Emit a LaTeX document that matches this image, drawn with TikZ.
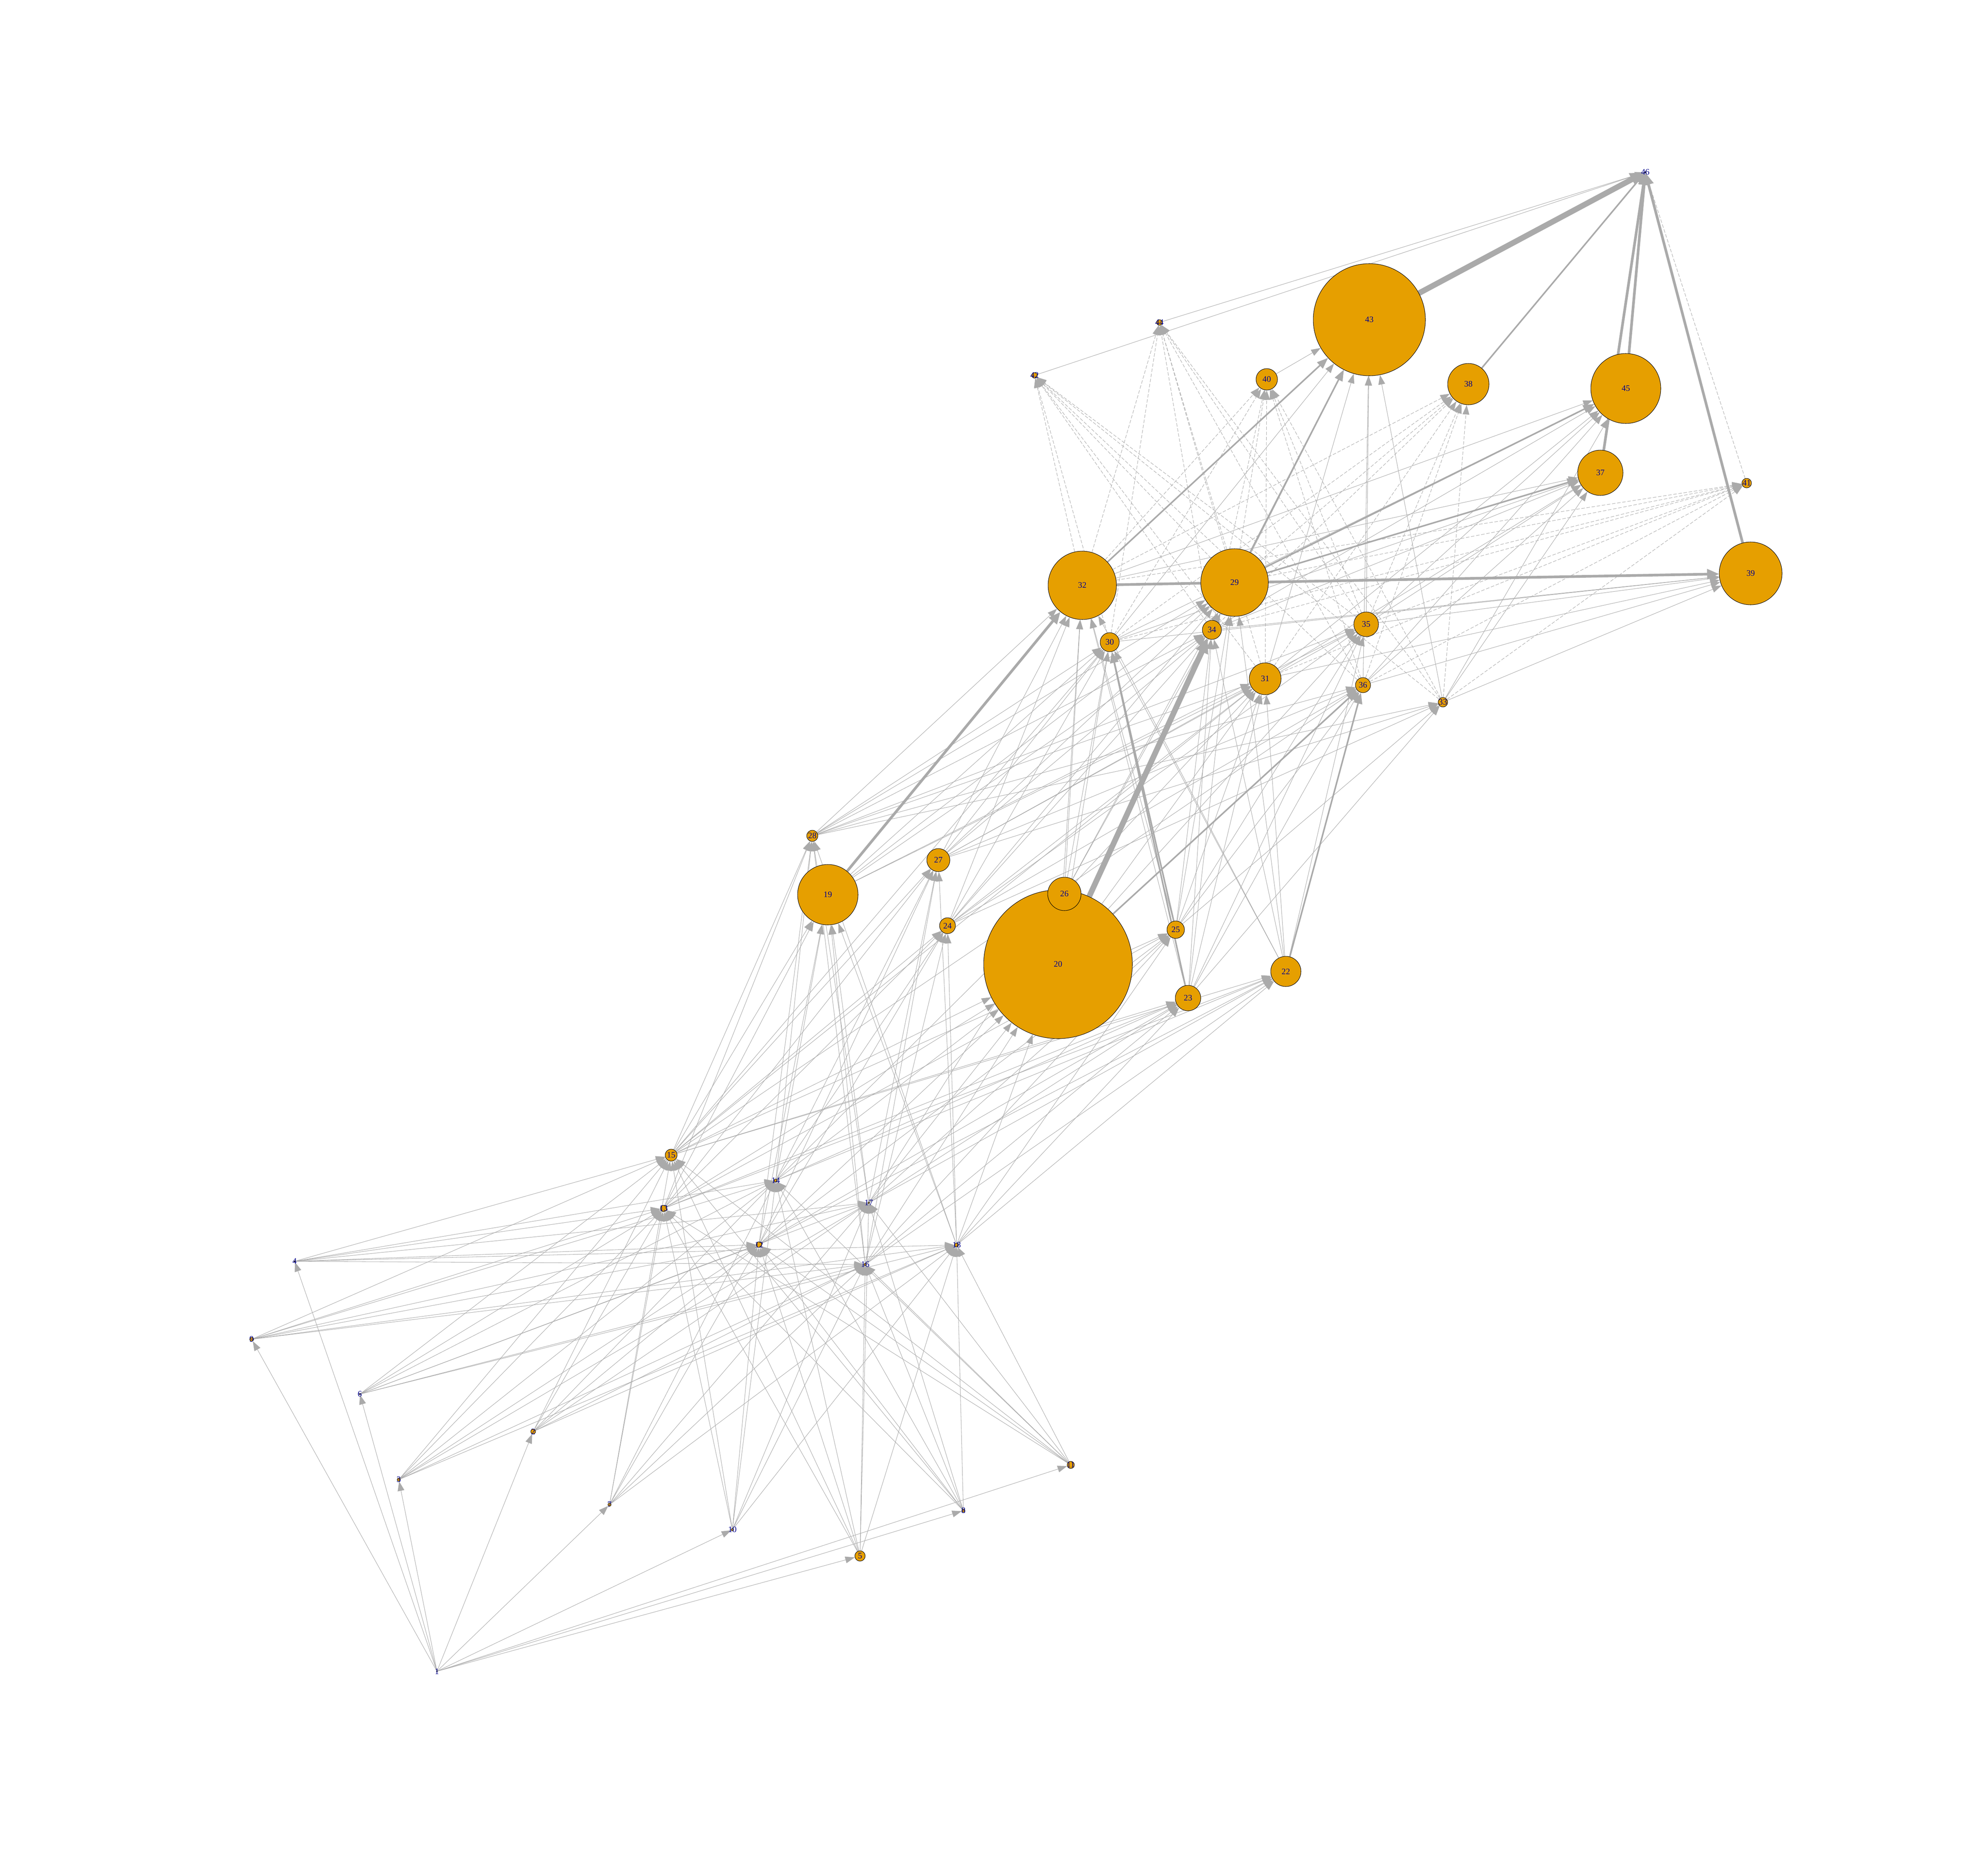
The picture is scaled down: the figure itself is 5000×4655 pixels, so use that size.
\documentclass[tikz,border=0pt]{standalone}
\usepackage{fontspec}
\setmainfont{Liberation Serif}
\usepackage{tikz}
\usetikzlibrary{arrows.meta}

\definecolor{vfill}{RGB}{230,159,0}
\definecolor{egray}{RGB}{170,170,170}
\definecolor{lblue}{RGB}{0,0,139}

\pgfdeclarelayer{edges}
\pgfsetlayers{edges,main}

\tikzset{
  vtx/.style={circle, draw=black, line width=0.3pt, fill=vfill, inner sep=0pt},
  vlabel/.style={text=lblue, font=\fontsize{6}{6}\selectfont, inner sep=0pt},
  edge/.style={draw=egray, line width=0.3pt, -{Triangle[length=2.4mm,width=1.7mm]}},
  edgedash/.style={edge, dash pattern=on 2.5pt off 1.2pt},
  edgemid/.style={draw=egray, line width=1.1pt, -{Triangle[length=2.8mm,width=2.1mm]}},
  edgethick/.style={draw=egray, line width=1.9pt, -{Triangle[length=3mm,width=2.5mm]}},
  edgeheavy/.style={draw=egray, line width=4pt, -{Triangle[length=3.6mm,width=3.2mm]}},
}

% vertex: label, x, y, radius (px of the plot)
\newcommand{\vx}[4]{%
  \node[vtx, minimum size={#4*0.2mm}] (n#1) at (#2,#3) {};
  \node[vlabel] at (n#1) {#1};
}

\begin{document}
\begin{tikzpicture}[x=0.1mm, y=-0.1mm]

    \useasboundingbox (0,0) rectangle (5000,4655);

    % source
    \vx{1}{1099}{4203}{1.5}
    % first layer
    \vx{2}{1341}{3600}{6}
    \vx{3}{1003}{3721}{4}
    \vx{4}{741}{3172}{1.5}
    \vx{5}{2163}{3913}{13}
    \vx{6}{905}{3506}{1.5}
    \vx{7}{1533}{3784}{4}
    \vx{8}{2423}{3799}{4}
    \vx{9}{633}{3368}{5}
    \vx{10}{1842}{3847}{3}
    \vx{11}{2693}{3684}{9}
    % second layer
    \vx{12}{1909}{3130}{7}
    \vx{13}{1669}{3039}{8}
    \vx{14}{1951}{2969}{4}
    \vx{15}{1688}{2905}{15}
    \vx{16}{2176}{3180}{3}
    \vx{17}{2185}{3025}{2}
    \vx{18}{2406}{3131}{5}
    % third layer
    \vx{19}{2082}{2250}{76}
    \vx{20}{2661}{2425}{187}
    \vx{22}{3234}{2443}{38}
    \vx{23}{2988}{2510}{32}
    \vx{24}{2383}{2328}{20}
    \vx{25}{2957}{2338}{22}
    \vx{26}{2677}{2248}{42}
    \vx{27}{2360}{2163}{29}
    \vx{28}{2043}{2102}{14}
    % fourth layer
    \vx{29}{3105}{1465}{85}
    \vx{30}{2791}{1615}{24}
    \vx{31}{3182}{1707}{40}
    \vx{32}{2722}{1472}{86}
    \vx{33}{3629}{1766}{12}
    \vx{34}{3048}{1584}{24}
    \vx{35}{3436}{1570}{31}
    \vx{36}{3428}{1723}{19}
    % fifth layer
    \vx{37}{4025}{1189}{57}
    \vx{38}{3693}{966}{52}
    \vx{39}{4403}{1442}{79}
    \vx{40}{3186}{954}{27}
    \vx{41}{4393}{1215}{12}
    \vx{42}{2602}{944}{7}
    \vx{43}{3444}{804}{141}
    \vx{44}{2916}{811}{7}
    \vx{45}{4089}{977}{88}
    % sink
    \vx{46}{4138}{433}{1.5}

    \begin{pgfonlayer}{edges}
    \foreach \t in {2,...,11} \path[edge] (n1) -- (n\t);

    \foreach \s in {2,...,11}
      \foreach \t in {12,...,18} \path[edge] (n\s) -- (n\t);

    \foreach \s/\tl in {12/{19,20,22,23,24,25,27,28},
                        13/{19,20,22,23,24,25,27,28},
                        14/{19,20,22,23,24,26,27,28},
                        15/{19,20,22,23,24,25,27,28,30,31,36},
                        16/{19,20,22,23,24,25,27,28},
                        17/{19,20,22,23,25,26,27,28},
                        18/{19,20,22,23,24,25,27,28}}
      \foreach \t in \tl \path[edge] (n\s) -- (n\t);

    \foreach \s/\tl in {19/{29,30,31,34,35},
                        20/{29,30,31,32,35},
                        22/{29,30,31,32,34,35},
                        23/{29,31,32,34,35,36,33},
                        24/{29,30,31,32,34,35,36,33},
                        25/{29,31,32,34,35,36,33},
                        26/{29,30,31,32,34},
                        27/{29,30,31,32,34,35,36,33},
                        28/{29,30,31,32,34,35,36,33}}
      \foreach \t in \tl \path[edge] (n\s) -- (n\t);

    \foreach \s/\tl in {29/{39}, 32/{45,37}, 30/{43,45,37,39}, 31/{43,45,37,39},
                        34/{43,45,37,39}, 35/{43,45,37,39}, 36/{43,45,37,39},
                        33/{43,45,37,39}}
      \foreach \t in \tl \path[edge] (n\s) -- (n\t);

    \foreach \s in {29,30,31,32,33,34,35,36}
      \foreach \t in {38,40,41,42,44} \path[edgedash] (n\s) -- (n\t);

    % heavier flows
    \path[edgemid] (n20) -- (n36);
    \path[edgemid] (n22) -- (n36);
    \path[edgemid] (n23) -- (n30);
    \path[edgemid] (n25) -- (n30);
    \path[edgemid] (n29) -- (n43);
    \path[edgemid] (n32) -- (n43);
    \path[edgemid] (n29) -- (n37);
    \path[edgemid] (n29) -- (n45);
    \path[edgemid] (n38) -- (n46);
    \path[edgethick] (n19) -- (n32);
    \path[edgethick] (n32) -- (n39);
    \path[edgethick] (n39) -- (n46);
    \path[edgethick] (n45) -- (n46);
    \path[edgethick] (n37) -- (n46);
    \path[edgeheavy] (n20) -- (n34);
    \path[edgeheavy] (n43) -- (n46);

    \path[edge] (n40) -- (n43);
    \path[edge] (n44) -- (n46);
    \path[edge] (n42) -- (n46);
    \path[edgedash] (n41) -- (n46);
    \end{pgfonlayer}

\end{tikzpicture}
\end{document}
